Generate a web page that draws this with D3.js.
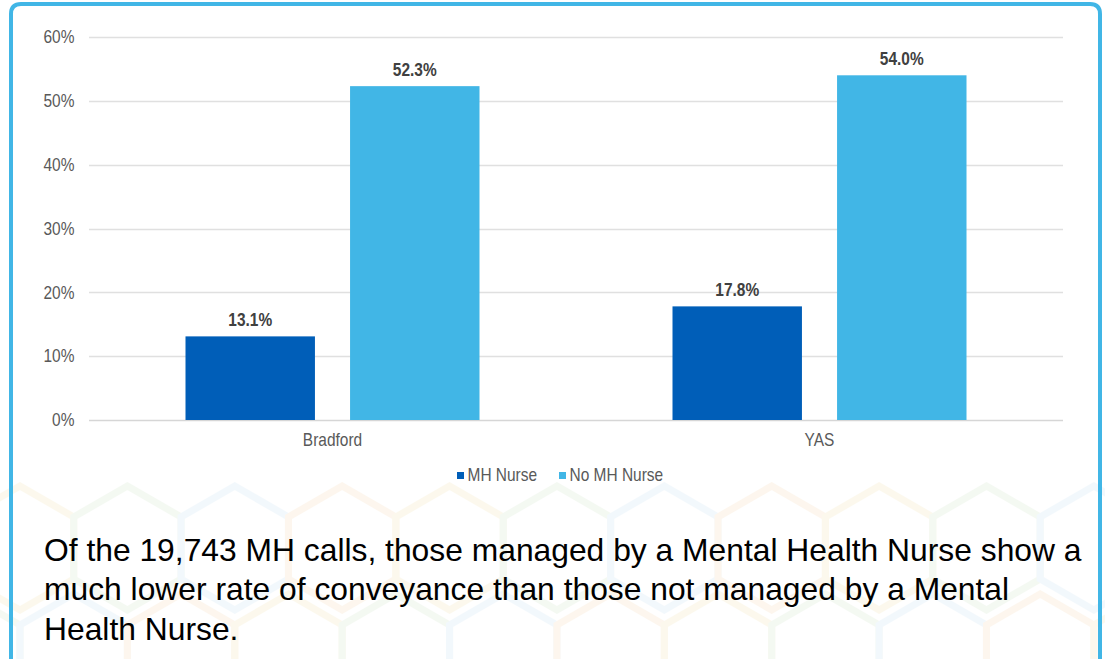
<!DOCTYPE html>
<html>
<head>
<meta charset="utf-8">
<script src="https://cdn.jsdelivr.net/npm/d3@7"></script>
<style>
  html, body { margin: 0; padding: 0; background: #ffffff; }
  svg { display: block; }
</style>
</head>
<body>
<svg id="chart" width="1105" height="659"></svg>
<script>
// Conveyance rate by site, split by whether a Mental Health Nurse managed the call
const sites = ["Bradford", "YAS"];
const seriesNames = ["MH Nurse", "No MH Nurse"];
const mhNurse = [13.1, 17.8];
const noMhNurse = [52.3, 54.0];
const yTicks = [0, 10, 20, 30, 40, 50, 60];
const seriesColors = ["#005EB8", "#41B6E6"];
const captionLines = [
  "Of the 19,743 MH calls, those managed by a Mental Health Nurse show a",
  "much lower rate of conveyance than those not managed by a Mental",
  "Health Nurse."
];

const svg = d3.select("#chart");
const FONT = "Liberation Sans, Arial, sans-serif";
const SX = 0.86; // narrow chart lettering

// Faint hexagon watermark behind the caption
const wm = svg.append("g").attr("opacity", 0.1).attr("fill", "none").attr("stroke-width", 7);
const hexColors = ["#e8c65a", "#9cc98a", "#8cc4ea", "#f0b060"];
function hexPath(cx, cy, r) {
  const pts = d3.range(6).map(i => {
    const a = Math.PI / 180 * (60 * i - 90);
    return [cx + r * Math.cos(a), cy + r * Math.sin(a)];
  });
  return "M" + pts.map(p => p.join(",")).join("L") + "Z";
}
const hexR = 62, hexDx = hexR * Math.sqrt(3);
[[548, 0], [656, hexDx / 2]].forEach(([cy, off], row) => {
  d3.range(-1, 11).forEach(i => {
    wm.append("path")
      .attr("d", hexPath(20 + i * hexDx + off, cy, hexR))
      .attr("stroke", hexColors[(i + row * 2 + 8) % 4]);
  });
});

// Rounded frame
svg.append("path")
  .attr("d", "M11,664 L11,14 Q11,4 21,4 L1090,4 Q1100,4 1100,14 L1100,664")
  .attr("fill", "none")
  .attr("stroke", "#41B6E6")
  .attr("stroke-width", 4);

const plot = { left: 89, right: 1063, top: 37, bottom: 420 };

const x0 = d3.scaleBand().domain(sites).range([plot.left, plot.right]);
const groupW = 294;
const x1 = d3.scaleBand().domain(seriesNames).range([0, groupW]).paddingInner(35 / 164);
const y = d3.scaleLinear().domain([0, 60]).range([plot.bottom, plot.top]);

// Gridlines
svg.append("g")
  .selectAll("line")
  .data(yTicks)
  .join("line")
  .attr("x1", plot.left).attr("x2", plot.right)
  .attr("y1", d => Math.round(y(d)) + 0.5).attr("y2", d => Math.round(y(d)) + 0.5)
  .attr("stroke", d => d === 0 ? "#d6d6d6" : "#e0e0e0")
  .attr("stroke-width", 1.3);

// Y axis labels
const yAxis = d3.axisLeft(y).tickValues(yTicks).tickFormat(d => d + "%").tickSize(0).tickPadding(17);
const yg = svg.append("g").attr("transform", `translate(${plot.left},0)`).call(yAxis);
yg.select(".domain").remove();
yg.selectAll("text")
  .attr("font-family", FONT)
  .attr("font-size", 18)
  .attr("fill", "#595959")
  .attr("transform", `scale(${SX},1)`);

// Bars
const data = sites.map((s, i) => ({ site: s, values: [
  { key: seriesNames[0], v: mhNurse[i] },
  { key: seriesNames[1], v: noMhNurse[i] }
]}));

const groups = svg.append("g").selectAll("g")
  .data(data)
  .join("g")
  .attr("transform", d => `translate(${x0(d.site) + (x0.bandwidth() - groupW) / 2},0)`);

groups.selectAll("rect")
  .data(d => d.values)
  .join("rect")
  .attr("x", d => x1(d.key))
  .attr("width", x1.bandwidth())
  .attr("y", d => y(d.v))
  .attr("height", d => y(0) - y(d.v))
  .attr("fill", (d, i) => seriesColors[i]);

groups.selectAll("text")
  .data(d => d.values)
  .join("text")
  .attr("transform", d => `translate(${x1(d.key) + x1.bandwidth() / 2},${y(d.v) - 10.5}) scale(${SX},1)`)
  .attr("text-anchor", "middle")
  .attr("font-family", FONT)
  .attr("font-size", 18)
  .attr("font-weight", "bold")
  .attr("fill", "#404040")
  .text(d => d.v.toFixed(1) + "%");

// Category labels
const xAxis = d3.axisBottom(x0).tickSize(0).tickPadding(13);
const xg = svg.append("g").attr("transform", `translate(0,${plot.bottom})`).call(xAxis);
xg.select(".domain").remove();
xg.selectAll("text")
  .attr("font-family", FONT)
  .attr("font-size", 18)
  .attr("fill", "#595959")
  .attr("transform", `scale(${SX},1)`);

// Legend
const legend = svg.append("g");
const legendX = [457, 559];
seriesNames.forEach((name, i) => {
  legend.append("rect")
    .attr("x", legendX[i]).attr("y", 472)
    .attr("width", 7).attr("height", 7)
    .attr("fill", seriesColors[i]);
  legend.append("text")
    .attr("transform", `translate(${legendX[i] + 10.5},481) scale(${SX},1)`)
    .attr("font-family", FONT)
    .attr("font-size", 18)
    .attr("fill", "#595959")
    .text(name);
});

// Caption
svg.append("g").selectAll("text")
  .data(captionLines)
  .join("text")
  .attr("x", 44)
  .attr("y", (d, i) => 560.5 + i * 39.7)
  .attr("font-family", FONT)
  .attr("font-size", 31.8)
  .attr("fill", "#000000")
  .text(d => d);
</script>
</body>
</html>
